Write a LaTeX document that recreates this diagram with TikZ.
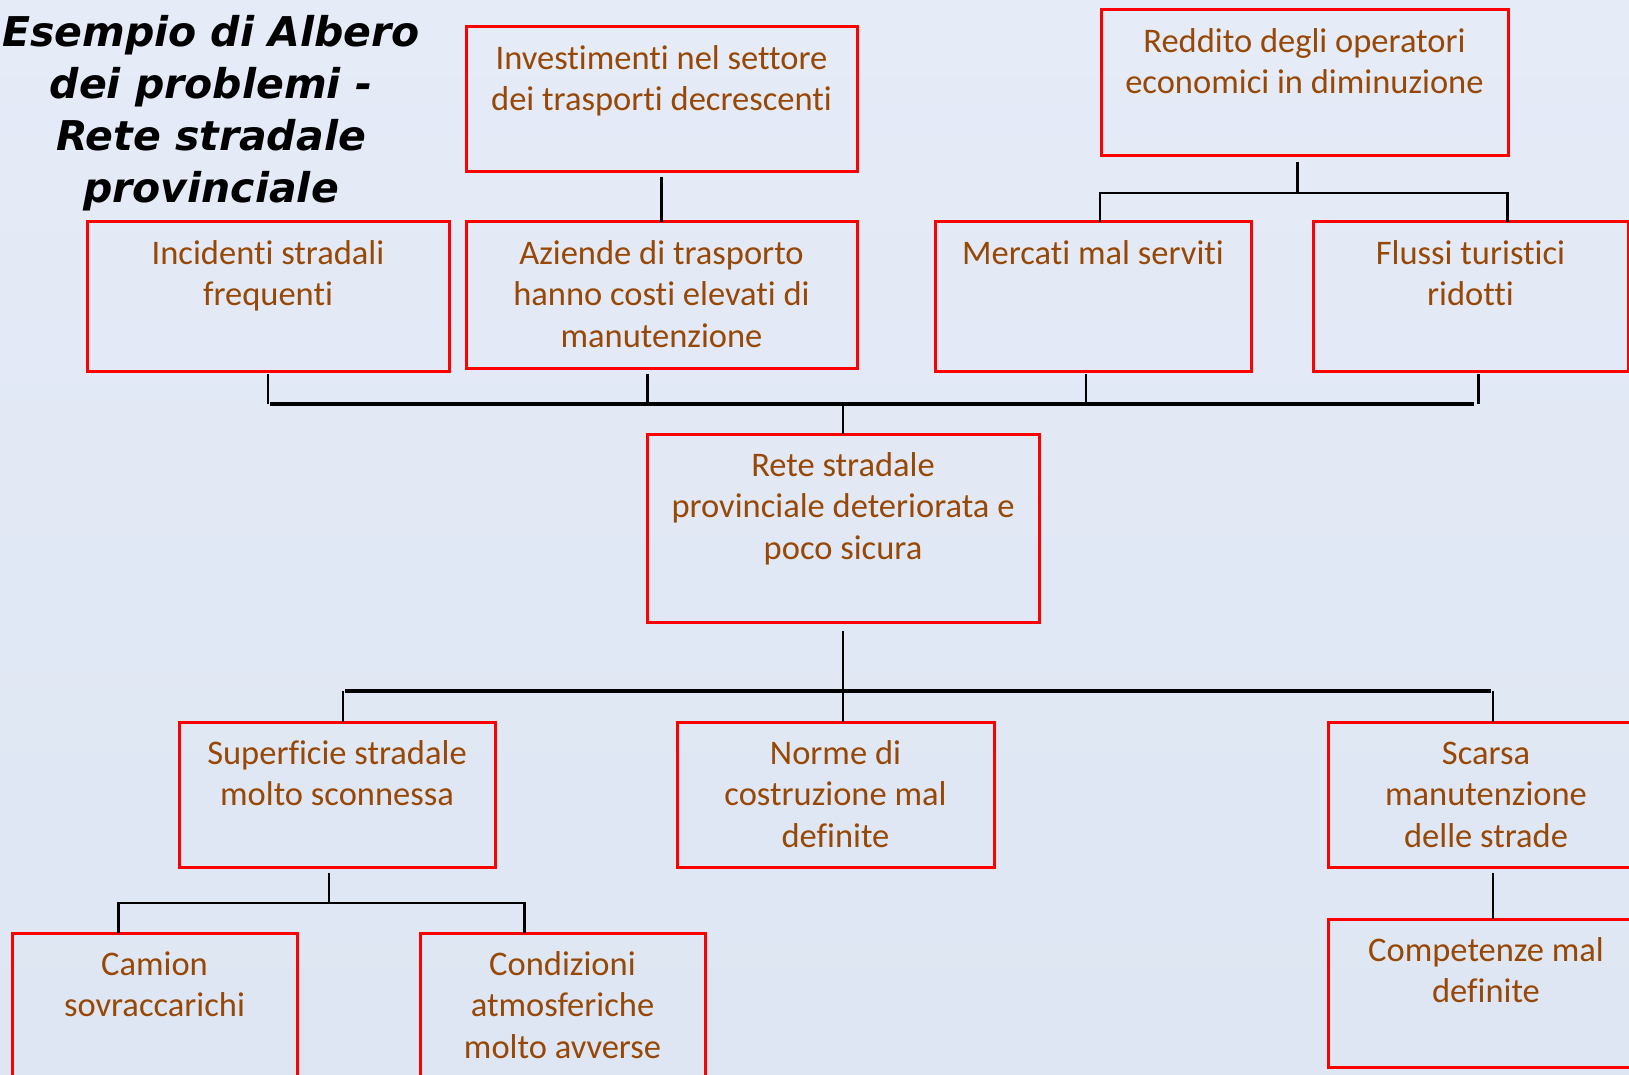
\documentclass[tikz,border=0pt]{standalone}
\usepackage{fontspec}
\setmainfont{Carlito}[Ligatures=NoCommon]
\newfontfamily\titlefont{DejaVu Sans}
\definecolor{bgtop}{RGB}{229,235,247}
\definecolor{bgbot}{RGB}{222,230,243}
\definecolor{txtbrown}{RGB}{151,72,7}
\tikzset{
  probbox/.style={draw=red, line width=3pt, inner sep=0pt, outer sep=0pt},
  probtext/.style={text=txtbrown, inner sep=0pt, outer sep=0pt, align=center,
    font=\fontsize{34.5}{41.5}\selectfont},
  conn/.style={draw=black, line width=2.4pt},
  bus/.style={draw=black, line width=3.2pt},
}
\newcommand{\probbox}[6]{%
  \node[probbox, minimum width={#4-#2}, minimum height={#5-#3}] (#1) at ({(#2+#4)/2},{(#3+#5)/2}) {};
  \node[probtext, anchor=north] (#1t) at ([yshift=-13pt]#1.north) {\strut #6};
}
\begin{document}
\begin{tikzpicture}[x=1pt,y=-1pt]
\useasboundingbox (0,0) rectangle (1629,1075);
\clip (0,0) rectangle (1629,1075);
\fill[top color=bgtop, bottom color=bgbot] (0,0) rectangle (1629,1075);

% title
\node[anchor=north, align=center, inner sep=0pt, font=\titlefont\bfseries\itshape\fontsize{41}{52}\selectfont] (title) at (211,10) {\strut Esempio di Albero\\dei problemi -\\Rete stradale\\provinciale};

% boxes
\probbox{inv}{466}{27}{857}{172}{Investimenti nel settore\\dei trasporti decrescenti}
\probbox{red}{1101}{10}{1508}{156}{Reddito degli operatori\\economici in diminuzione}
\probbox{inc}{87}{222}{449}{371}{Incidenti stradali\\frequenti}
\probbox{az}{466}{222}{857}{368}{Aziende di trasporto\\hanno costi elevati di\\manutenzione}
\probbox{mer}{935}{222}{1251}{371}{Mercati mal serviti}
\probbox{flu}{1313}{222}{1628}{371}{Flussi turistici\\ridotti}
\probbox{rete}{647}{434}{1039}{622}{Rete stradale\\provinciale deteriorata e\\poco sicura}
\probbox{sup}{179}{722}{495}{867}{Superficie stradale\\molto sconnessa}
\probbox{nor}{677}{722}{994}{867}{Norme di\\costruzione mal\\definite}
\probbox{sca}{1328}{722}{1644}{867}{Scarsa\\manutenzione\\delle strade}
\probbox{cam}{12}{933}{297}{1078}{Camion\\sovraccarichi}
\probbox{cond}{420}{933}{705}{1078}{Condizioni\\atmosferiche\\molto avverse}
\probbox{comp}{1328}{919}{1644}{1067}{Competenze mal\\definite}

% junction coordinates
\coordinate (topbus) at (0,404);
\coordinate (redbus) at (0,193);
\coordinate (retebus) at (0,691);
\coordinate (supbus) at (0,903);

% investimenti -> aziende
\draw[conn] ([yshift=-5pt]inv.south) -- (az.north);

% reddito -> mercati, flussi
\draw[conn] ([xshift=-7pt,yshift=-6pt]red.south) -- ([xshift=-7pt]red.south |- redbus);
\draw[conn] ([xshift=7pt]mer.north) -- ([xshift=7pt]mer.north |- redbus)
   -- ([xshift=37pt]flu.north |- redbus) -- ([xshift=37pt]flu.north);

% top row -> rete
\draw[conn] ([yshift=-3pt]inc.south) -- (inc.south |- topbus);
\draw[conn] ([xshift=-14pt,yshift=-6pt]az.south) -- ([xshift=-14pt]az.south |- topbus);
\draw[conn] ([xshift=-7pt,yshift=-3pt]mer.south) -- ([xshift=-7pt]mer.south |- topbus);
\draw[conn] ([xshift=8pt,yshift=-3pt]flu.south) -- ([xshift=8pt]flu.south |- topbus);
\draw[bus] ([xshift=2pt]inc.south |- topbus) -- ([xshift=3pt]flu.south |- topbus);
\draw[conn] (rete.north |- topbus) -- (rete.north);

% rete -> bottom row
\draw[conn] ([yshift=-9pt]rete.south) -- (rete.south |- retebus);
\draw[bus] ([xshift=8pt]sup.north |- retebus) -- ([xshift=5pt]sca.north |- retebus);
\draw[conn] ([xshift=6pt]sup.north |- retebus) -- ([xshift=6pt]sup.north);
\draw[conn] (rete.south |- retebus) -- (rete.south |- nor.north);
\draw[conn] ([xshift=7pt]sca.north |- retebus) -- ([xshift=7pt]sca.north);

% superficie -> camion, condizioni
\draw[conn] ([xshift=-8pt,yshift=-6pt]sup.south) -- ([xshift=-8pt]sup.south |- supbus);
\draw[conn] ([xshift=-36pt]cam.north) -- ([xshift=-36pt]cam.north |- supbus)
   -- ([xshift=-38pt]cond.north |- supbus) -- ([xshift=-38pt]cond.north);

% scarsa -> competenze
\draw[conn] ([xshift=7pt,yshift=-6pt]sca.south) -- ([xshift=7pt]comp.north);
\end{tikzpicture}
\end{document}
